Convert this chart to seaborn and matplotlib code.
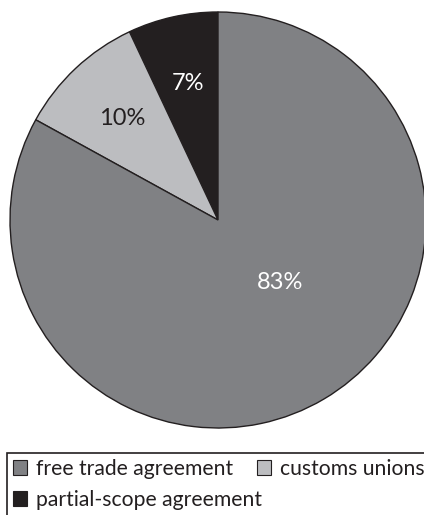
import matplotlib
matplotlib.use("Agg")
import matplotlib.pyplot as plt
import seaborn as sns
from matplotlib.patches import Patch, Rectangle

sns.set_theme(style="white")
plt.rcParams['font.family'] = ['Lato', 'DejaVu Sans']

# Data (drawn counter-clockwise from 12 o'clock)
categories = ["partial-scope agreement", "customs unions", "free trade agreement"]
shares = [7, 10, 83]
colors = ["#231F20", "#BCBDC0", "#808184"]
label_colors = ["white", "#231F20", "white"]
legend_order = ["free trade agreement", "customs unions", "partial-scope agreement"]

W, H = 424, 515
fig = plt.figure(figsize=(W / 100, H / 100), dpi=100)
ax = fig.add_axes([10 / W, (H - 428) / H, 416 / W, 416 / H])

wedges, texts, autotexts = ax.pie(
    shares, colors=colors, startangle=90, counterclock=True,
    autopct=lambda p: f"{p:.0f}%", pctdistance=0.67,
    wedgeprops=dict(edgecolor="#231F20", linewidth=1.0),
    textprops=dict(fontsize=17),
)
for w in wedges:
    w.set_clip_on(False)
for t, c in zip(autotexts, label_colors):
    t.set_color(c)
# the large slice label sits off-centre in the original
autotexts[2].set_position((0.30, -0.30))

ax.set_xlim(-1, 1)
ax.set_ylim(-1, 1)
ax.set_aspect("equal")
ax.axis("off")

cmap = dict(zip(categories, colors))
handles = [Patch(facecolor=cmap[c], edgecolor="#231F20", linewidth=0.8, label=c) for c in legend_order]

# legend frame
fig.patches.append(Rectangle((7 / W, -0.05), 1.0, (H - 453) / H + 0.05, transform=fig.transFigure,
                             facecolor="white", edgecolor="#231F20", linewidth=1.2, zorder=0))

common = dict(frameon=False, fontsize=15.2, handlelength=0.67, handleheight=0.67,
              handletextpad=0.43, borderpad=0, borderaxespad=0, labelcolor="#231F20")
leg1 = fig.legend(handles=handles[:2], ncol=2, loc="center left", columnspacing=1.1,
                  bbox_to_anchor=(13 / W, (H - 469) / H), **common)
leg2 = fig.legend(handles=handles[2:], ncol=1, loc="center left",
                  bbox_to_anchor=(13 / W, (H - 500) / H), **common)

fig.savefig("out.png", dpi=100)
